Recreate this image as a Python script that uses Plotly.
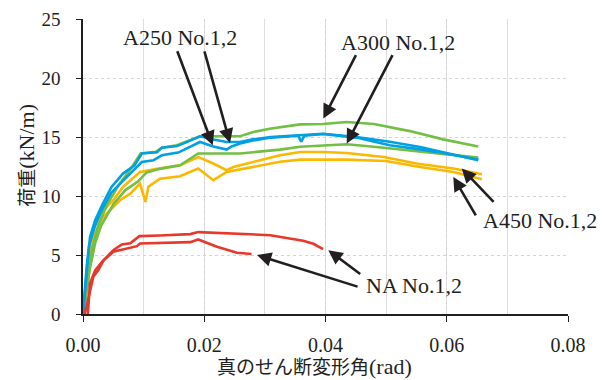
import plotly.graph_objects as go

# ---- data (shear deformation angle in rad, load in kN/m) ----
a250_1_x = [0, 0.0003, 0.0006, 0.00115, 0.002, 0.0033, 0.0047, 0.0066, 0.0085, 0.0097, 0.0122, 0.013, 0.0155, 0.0165, 0.0193, 0.0215, 0.0237, 0.0259, 0.028, 0.031, 0.0358, 0.0396, 0.0451, 0.0506, 0.0556, 0.0594, 0.0652]
a250_1_y = [0, 2.0, 3.4, 6.5, 7.95, 9.37, 10.77, 11.9, 12.6, 13.6, 13.7, 14.1, 14.24, 14.44, 15.06, 14.78, 14.58, 14.58, 14.8, 15.0, 15.14, 15.28, 15.0, 14.6, 14.15, 13.73, 13.03]
a250_2_x = [0, 0.0003, 0.0006, 0.001, 0.002, 0.0033, 0.0047, 0.0072, 0.0097, 0.0116, 0.013, 0.0157, 0.0165, 0.0193, 0.0215, 0.0237, 0.0245, 0.0259, 0.028, 0.031, 0.0355, 0.036, 0.0365, 0.0396, 0.0451, 0.0506, 0.0556, 0.0594, 0.0652]
a250_2_y = [0, 2.5, 4.0, 5.8, 7.5, 9.0, 10.3, 11.6, 12.88, 13.03, 13.45, 13.68, 13.87, 14.58, 14.2, 13.93, 14.2, 14.44, 14.7, 14.95, 15.1, 14.6, 15.1, 15.25, 14.95, 14.3, 13.95, 13.65, 13.1]

a300_1_x = [0, 0.0005, 0.001, 0.0015, 0.0025, 0.004, 0.006, 0.008, 0.0095, 0.012, 0.013, 0.0155, 0.0193, 0.0215, 0.0259, 0.0281, 0.0308, 0.0358, 0.0396, 0.0435, 0.048, 0.0539, 0.0594, 0.0652]
a300_1_y = [0, 1.5, 3.5, 5.5, 7.5, 9.3, 11.0, 12.4, 13.6, 13.75, 14.1, 14.3, 15.06, 15.06, 15.06, 15.42, 15.7, 16.07, 16.1, 16.27, 16.1, 15.5, 14.8, 14.2]
a300_2_x = [0, 0.0005, 0.001, 0.002, 0.003, 0.005, 0.007, 0.009, 0.0105, 0.0127, 0.016, 0.019, 0.0259, 0.0325, 0.0358, 0.0435, 0.048, 0.0539, 0.0594, 0.0652]
a300_2_y = [0, 1.5, 3.5, 6.0, 7.5, 9.3, 10.5, 11.2, 12.0, 12.3, 12.6, 13.6, 13.6, 13.93, 14.17, 14.38, 14.17, 13.87, 13.6, 13.25]

a450_1_x = [0, 0.0005, 0.001, 0.0017, 0.0028, 0.005, 0.0066, 0.0094, 0.0122, 0.016, 0.019, 0.0215, 0.0237, 0.0248, 0.0292, 0.0325, 0.0358, 0.0396, 0.0435, 0.0496, 0.055, 0.0611, 0.0658]
a450_1_y = [0, 2.0, 4.5, 7.2, 8.5, 9.64, 10.77, 12.04, 12.3, 12.6, 13.3, 12.75, 12.18, 12.46, 13.03, 13.45, 13.73, 13.73, 13.65, 13.3, 12.75, 12.33, 11.84]
a450_2_x = [0, 0.0005, 0.001, 0.0017, 0.0033, 0.005, 0.0061, 0.0078, 0.0094, 0.0103, 0.0108, 0.0127, 0.016, 0.019, 0.0215, 0.0237, 0.0281, 0.0325, 0.0358, 0.0435, 0.05, 0.0556, 0.0611, 0.0658]
a450_2_y = [0, 1.8, 4.0, 6.5, 8.2, 9.1, 9.64, 10.2, 11.05, 9.5, 10.8, 11.47, 11.67, 12.33, 11.34, 12.04, 12.46, 12.9, 13.08, 13.08, 12.97, 12.46, 12.04, 11.42]

na_1_x = [0.0008, 0.00115, 0.002, 0.0031, 0.005, 0.0064, 0.0078, 0.0093, 0.0127, 0.0177, 0.019, 0.0242, 0.0292, 0.0309, 0.0363, 0.038, 0.0396]
na_1_y = [0, 2.6, 3.7, 4.4, 5.4, 5.9, 6.0, 6.6, 6.65, 6.77, 6.94, 6.83, 6.7, 6.68, 6.2, 5.95, 5.5]
na_2_x = [0.0003, 0.0017, 0.0025, 0.0034, 0.005, 0.0089, 0.0094, 0.0177, 0.019, 0.0221, 0.0254, 0.0278]
na_2_y = [0, 3.15, 3.7, 4.55, 5.27, 5.75, 5.98, 6.09, 6.32, 5.7, 5.19, 5.08]

x_ticks = [0.00, 0.02, 0.04, 0.06, 0.08]
x_tick_labels = ["0.00", "0.02", "0.04", "0.06", "0.08"]
y_ticks = [0, 5, 10, 15, 20, 25]

GREEN = "#72bf44"
BLUE = "#00a0e2"
YELLOW = "#fbb800"
RED = "#e8382a"

series = [
    (a450_2_x, a450_2_y, YELLOW, "A450 No.2"),
    (a450_1_x, a450_1_y, YELLOW, "A450 No.1"),
    (a300_2_x, a300_2_y, GREEN, "A300 No.2"),
    (a300_1_x, a300_1_y, GREEN, "A300 No.1"),
    (a250_2_x, a250_2_y, BLUE, "A250 No.2"),
    (a250_1_x, a250_1_y, BLUE, "A250 No.1"),
    (na_2_x, na_2_y, RED, "NA No.2"),
    (na_1_x, na_1_y, RED, "NA No.1"),
]

fig = go.Figure()
for xs, ys, col, name in series:
    fig.add_trace(go.Scatter(x=xs, y=ys, mode="lines", name=name,
                             line=dict(color=col, width=2.6), showlegend=False))

SERIF = "Liberation Serif, Times New Roman, serif"
JP = "Noto Sans CJK JP, sans-serif"
TXT = "#231f20"

labels = [
    ("A250 No.1,2", 0.0160, 23.43, [(0.0214, 14.30, 0.01546, 22.39), (0.02425, 14.49, 0.01996, 22.39)]),
    ("A300 No.1,2", 0.0520, 23.00, [(0.03964, 16.56, 0.04515, 22.06), (0.0435, 14.44, 0.05118, 22.06)]),
    ("A450 No.1,2", 0.0754, 7.95, [(0.06108, 11.62, 0.06494, 8.23), (0.06247, 12.33, 0.06796, 9.37)]),
    ("NA No.1,2", 0.0546, 2.45, [(0.04046, 5.41, 0.04597, 3.30), (0.0287, 4.99, 0.04553, 2.28)]),
]
annotations = []
for text, tx, ty, arrows in labels:
    annotations.append(dict(x=tx, y=ty, xref="x", yref="y", text=text, showarrow=False,
                            font=dict(family=SERIF, size=22, color=TXT)))
    for hx, hy, ax, ay in arrows:
        annotations.append(dict(x=hx, y=hy, xref="x", yref="y", ax=ax, ay=ay,
                                axref="x", ayref="y", text="", showarrow=True,
                                arrowhead=2, arrowsize=1.1, arrowwidth=2.6,
                                arrowcolor="#231f20", standoff=0, startstandoff=0))

# axis titles
annotations.append(dict(text="真のせん断変形角<span style='font-family:Liberation Serif;font-size:22px'>(rad)</span>",
                        xref="paper", yref="paper", x=0.4773, y=-0.175, xanchor="center", yanchor="middle",
                        showarrow=False, font=dict(family=JP, size=19, color=TXT)))
annotations.append(dict(text="荷重<span style='font-family:Liberation Serif;font-size:22px'>(kN/m)</span>",
                        xref="paper", yref="paper", x=-0.118, y=0.539, xanchor="center", yanchor="middle",
                        textangle=-90, showarrow=False, font=dict(family=JP, size=19, color=TXT)))

# the page body adds an 8px offset, so the figure is 8px smaller than the window
fig.update_layout(
    width=602, height=372,
    margin=dict(l=75, r=42, t=11, b=66, autoexpand=False),
    paper_bgcolor="white", plot_bgcolor="white",
    annotations=annotations,
    xaxis=dict(
        range=[0, 0.08], tickvals=x_ticks, ticktext=x_tick_labels,
        showgrid=True, gridcolor="#d4d4d4", gridwidth=1, griddash="dot",
        minor=dict(dtick=0.01, showgrid=True, gridcolor="#dedede", gridwidth=1, griddash="solid"),
        showline=True, linecolor="#231f20", linewidth=1.5,
        ticks="outside", ticklen=6, tickwidth=1, tickcolor="#231f20",
        ticklabelstandoff=6,
        tickfont=dict(family=SERIF, size=20, color=TXT),
        automargin=False, zeroline=False,
    ),
    yaxis=dict(
        range=[0, 25], tickvals=y_ticks,
        showgrid=True, gridcolor="#d4d4d4", gridwidth=1, griddash="dot",
        showline=True, linecolor="#231f20", linewidth=1.5,
        ticks="outside", ticklen=5, tickwidth=1, tickcolor="#231f20",
        ticklabelstandoff=12,
        tickfont=dict(family=SERIF, size=19, color=TXT),
        automargin=False, zeroline=False,
    ),
)

fig.write_html("out.html")
